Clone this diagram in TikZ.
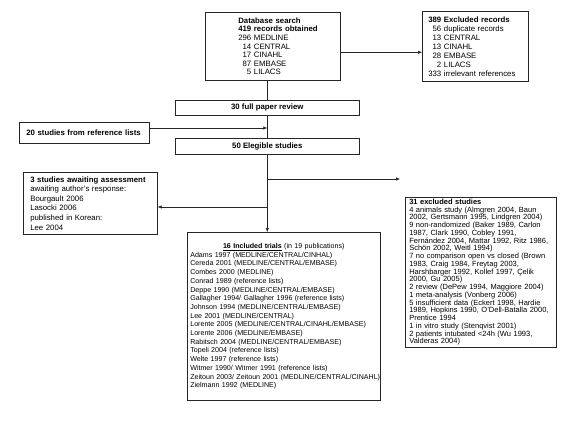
\documentclass[tikz,border=0pt]{standalone}
\usepackage{fontspec}
\setmainfont{Liberation Sans}
\usetikzlibrary{arrows.meta}
\newcommand{\nb}[1]{\mbox{#1}}
\begin{document}
\begin{tikzpicture}[x=1pt,y=-1pt,
  box/.style={draw=black!85, line width=0.6pt, anchor=north west, inner sep=0pt,
    font=\fontsize{7.8}{8.6}\selectfont},
  ln/.style={draw=black!85, line width=0.6pt},
  arr/.style={ln, -{Latex[length=4pt,width=3.5pt]}}]
\useasboundingbox[fill=white] (0,0) rectangle (575,420);

\node[box, minimum width=135pt, minimum height=68pt, text width=69pt, align=left] (db) at (205,12)
 {\nb{\textbf{Database search}}\\ \nb{\textbf{419 records obtained}}\\ \nb{296 MEDLINE}\\ \nb{\phantom{2}14 CENTRAL}\\ \nb{\phantom{2}17 CINAHL}\\ \nb{\phantom{2}87 EMBASE}\\ \nb{\phantom{29}5 LILACS}};

\node[box, minimum width=106pt, minimum height=70pt, text width=94pt, align=left,
      font=\fontsize{7.8}{9}\selectfont] (excl) at (422,11)
 {\nb{\textbf{389 Excluded records}}\\ \nb{\phantom{3}56 duplicate records}\\ \nb{\phantom{3}13 CENTRAL}\\ \nb{\phantom{3}13 CINAHL}\\ \nb{\phantom{3}28 EMBASE}\\ \nb{\phantom{33}2 LILACS}\\ \nb{333 irrelevant references}};

\node[box, minimum width=184pt, minimum height=15pt, align=center] (full) at (175,100)
 {\textbf{30 full paper review}};

\node[box, minimum width=184pt, minimum height=16pt, align=center] (elig) at (175,138)
 {\textbf{50 Elegible studies}};

\node[box, minimum width=130pt, minimum height=21pt, text width=116pt, align=left] (ref) at (19,122)
 {\nb{\textbf{20 studies from reference lists}}};

\node[box, minimum width=134pt, minimum height=62pt, text width=120pt, align=left,
      font=\fontsize{7.8}{9.5}\selectfont] (await) at (23,172)
 {\nb{\textbf{3 studies awaiting assessment}}\\ \nb{awaiting author's response:}\\ \nb{Bourgault 2006}\\ \nb{Lasocki 2006}\\ \nb{published in Korean:}\\[0.5pt] \nb{Lee 2004}};

\node[box, minimum width=193pt, minimum height=168pt, text width=187pt, align=left,
      font=\fontsize{7.1}{8.7}\selectfont] (incl) at (187,232)
 {\makebox[187pt][c]{\underline{\textbf{16 Included trials}} (in 19 publications)}\\
  \nb{Adams 1997 (MEDLINE/CENTRAL/CINHAL)}\\
  \nb{Cereda 2001 (MEDLINE/CENTRAL/EMBASE)}\\
  \nb{Combes 2000 (MEDLINE)}\\
  \nb{Conrad 1989 (reference lists)}\\
  \nb{Deppe 1990 (MEDLINE/CENTRAL/EMBASE)}\\
  \nb{Gallagher 1994/ Gallagher 1996 (reference lists)}\\
  \nb{Johnson 1994 (MEDLINE/CENTRAL/EMBASE)}\\
  \nb{Lee 2001 (MEDLINE/CENTRAL)}\\
  \nb{Lorente 2005 (MEDLINE/CENTRAL/CINAHL/EMBASE)}\\
  \nb{Lorente 2006 (MEDLINE/EMBASE)}\\
  \nb{Rabitsch 2004 (MEDLINE/CENTRAL/EMBASE)}\\
  \nb{Topeli 2004 (reference lists)}\\
  \nb{Welte 1997 (reference lists)}\\
  \nb{Witmer 1990/ Witmer 1991 (reference lists)}\\
  \nb{Zeitoun 2003/ Zeitoun 2001 (MEDLINE/CENTRAL/CINAHL)}\\
  \nb{Zielmann 1992 (MEDLINE)}};

\node[box, minimum width=151pt, minimum height=150pt, text width=143pt, align=left,
      font=\fontsize{7.5}{7.75}\selectfont] (exc) at (405,197)
 {\nb{\textbf{31 excluded studies}}\\
  \nb{4 animals study (Almgren 2004, Baun}\\
  \nb{2002, Gertsmann 1995, Lindgren 2004)}\\
  \nb{9 non-randomized (Baker 1989, Carlon}\\
  \nb{1987, Clark 1990, Cobley 1991,}\\
  \nb{Fernández 2004, Mattar 1992, Ritz 1986,}\\
  \nb{Schön 2002, Weitl 1994)}\\
  \nb{7 no comparison open vs closed (Brown}\\
  \nb{1983, Craig 1984, Freytag 2003,}\\
  \nb{Harshbarger 1992, Kollef 1997, Çelik}\\
  \nb{2000, Gu 2005)}\\
  \nb{2 review (DePew 1994, Maggiore 2004)}\\
  \nb{1 meta-analysis (Vonberg 2006)}\\
  \nb{5 insufficient data (Eckert 1998, Hardie}\\
  \nb{1989, Hopkins 1990, O'Dell-Batalla 2000,}\\
  \nb{Prentice 1994}\\
  \nb{1 in vitro study (Stenqvist 2001)}\\
  \nb{2 patients intubated <24h (Wu 1993,}\\
  \nb{Valderas 2004)}};

\coordinate (b1) at (full.south |- 0,179);
\coordinate (b2) at (full.south |- 0,207);
\coordinate (e1) at (400,179);

\draw[ln] (full.north |- db.south) -- (full.north);
\draw[ln] (full.south) -- (elig.north);
\draw[arr] (ref.east |- 0,128) -- (full.south |- 0,128);
\draw[arr] ([yshift=-6pt]db.east) -- ([yshift=-6pt]excl.west);
\draw[arr] (elig.south) -- (elig.south |- incl.north);
\draw[arr] (b1) -- (e1);
\draw[arr] (b2) -- (b2 -| await.east);
\end{tikzpicture}
\end{document}
